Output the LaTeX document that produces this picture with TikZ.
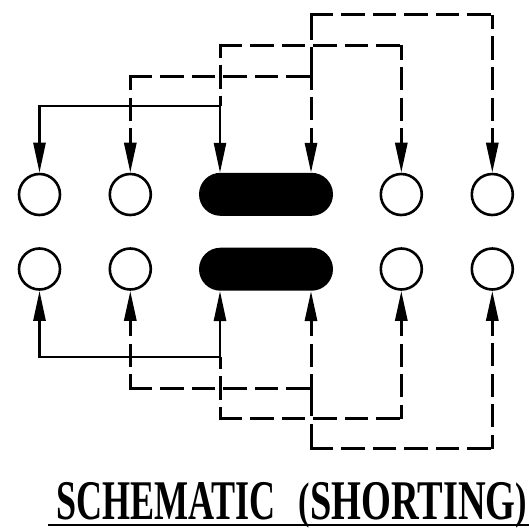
\documentclass[tikz,border=0pt]{standalone}
\usepackage{fontspec}
\setmainfont{Liberation Serif}
\newfontfamily\titlewordA[FakeStretch=0.644]{Liberation Serif}
\newfontfamily\titlewordB[FakeStretch=0.685]{Liberation Serif}
\usetikzlibrary{arrows.meta,shapes.misc}
\newcommand{\parenglyph}[1]{\raisebox{2.5pt}{\fontsize{50}{60}\selectfont #1}}
\tikzset{
  pin/.style={circle,draw=black,line width=2.6pt,fill=white,minimum size=41pt,inner sep=0pt},
  bar/.style={rounded rectangle,fill=black,draw=none,minimum width=134pt,minimum height=43pt,inner sep=0pt},
  tip/.style={-{Triangle[length=30pt,width=12pt]}},
  solidwire/.style={line width=2.6pt},
  hdash/.style={line width=3pt,line cap=rect,dash pattern=on 20.5pt off 11pt},
  vdash/.style={line width=3pt,dash pattern=on 23pt off 7.5pt,dash phase=9pt,tip},
  midtop/.style={line width=3pt,dash pattern=on 12pt off 7pt on 24pt off 7pt on 13pt off 100pt},
  righttop/.style={line width=3pt,dash pattern=on 25pt off 7.5pt on 42pt off 7pt on 23pt off 8pt on 100pt,tip},
  title/.style={inner sep=0pt,anchor=base west}
}
\begin{document}
\begin{tikzpicture}[x=1pt,y=-1pt]
\useasboundingbox (0,0) rectangle (529,527);
% top row
\node[pin] (t1) at (39.5,194.5) {};
\node[pin] (t2) at (130.3,194.5) {};
\node[bar] (tp) at (266,194.3) {};
\node[pin] (t5) at (401.3,194.5) {};
\node[pin] (t6) at (492.3,194.5) {};
% bottom row
\node[pin] (b1) at (39.5,269) {};
\node[pin] (b2) at (130.3,269) {};
\node[bar] (bp) at (266,269.2) {};
\node[pin] (b5) at (401.3,269) {};
\node[pin] (b6) at (492.3,269) {};
% pad contact points
\coordinate (ta) at (220,172.8);
\coordinate (tb) at (311,172.8);
\coordinate (ba) at (220,291);
\coordinate (bb) at (311,291);
% top corners and junctions
\coordinate (ja) at (220,106);
\coordinate (jb) at (311,76);
\coordinate (jc) at (220,45.5);
\coordinate (jd) at (311,15);
\coordinate (c2) at (130.3,76);
\coordinate (c5) at (401.3,45.5);
\coordinate (c6) at (492.3,15);
% bottom corners and junctions
\coordinate (ka) at (220,357);
\coordinate (kb) at (311,388);
\coordinate (kc) at (220,418.5);
\coordinate (kd) at (311,448.5);
\coordinate (d2) at (130.3,388);
\coordinate (d5) at (401.3,418.5);
\coordinate (d6) at (492.3,448.5);
% top wiring
\draw[solidwire,tip] (ja) -- (ta);
\draw[solidwire,tip] (ja) -| (t1.north);
\draw[hdash] (c2) -- (jb);
\draw[vdash] (c2) -- (t2.north);
\draw[midtop] (jc) -- (ja);
\draw[hdash] (jc) -- (c5);
\draw[vdash] (c5) -- (t5.north);
\draw[righttop] (jd) -- (tb);
\draw[hdash] (jd) -- (c6);
\draw[vdash] (c6) -- (t6.north);
% bottom wiring
\draw[solidwire,tip] (ka) -- (ba);
\draw[solidwire,tip] (ka) -| (b1.south);
\draw[hdash] (d2) -- (kb);
\draw[vdash] (d2) -- (b2.south);
\draw[midtop] (kc) -- (ka);
\draw[hdash] (kc) -- (d5);
\draw[vdash] (d5) -- (b5.south);
\draw[righttop] (kd) -- (bb);
\draw[hdash] (kd) -- (d6);
\draw[vdash] (d6) -- (b6.south);
% title
\coordinate (ul) at (48,525);
\coordinate (ur) at (529,525);
\draw[line width=2.4pt] (ul) -- (ur);
\node[title] (cap) at (56,519.5) {\fontsize{56}{60}\selectfont\bfseries{\titlewordA\bfseries SCHEMATIC}\hspace{23pt}{\titlewordB\bfseries\parenglyph{(}SHORTING\parenglyph{)}}};
\end{tikzpicture}
\end{document}
